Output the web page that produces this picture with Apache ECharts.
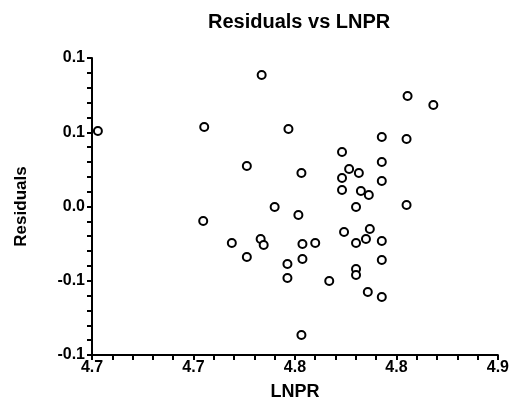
<!DOCTYPE html>
<html>
<head>
<meta charset="utf-8">
<script src="https://cdn.jsdelivr.net/npm/echarts@6/dist/echarts.min.js"></script>
<style>html,body{margin:0;padding:0;background:#fff}#c{width:512px;height:408px}</style>
</head>
<body>
<div id="c"></div>
<script>
const titleText = 'Residuals vs LNPR';
const xName = 'LNPR';
const yName = 'Residuals';
const xTickLabels = ['4.7', '4.7', '4.8', '4.8', '4.9'];
const yTickLabels = ['-0.1', '-0.1', '0.0', '0.1', '0.1'];
const lnpr = [4.6529, 4.7053, 4.7336, 4.7468, 4.7263, 4.7532, 4.7400, 4.7517, 4.7048, 4.7189,
  4.7331, 4.7346, 4.7263, 4.7537, 4.7600, 4.7463, 4.7537, 4.7463, 4.7532, 4.7669,
  4.8055, 4.8182, 4.7928, 4.8050, 4.7732, 4.7928, 4.7767, 4.7815, 4.7732, 4.7928,
  4.7732, 4.7825, 4.7864, 4.7801, 4.8050, 4.7742, 4.7869, 4.7850, 4.7801, 4.7928,
  4.7928, 4.7801, 4.7801, 4.7859, 4.7928];
const residuals = [0.0763, 0.0803, 0.1328, 0.0783, 0.0409, 0.0338, -0.0005, -0.0086, -0.0146, -0.0369,
  -0.0328, -0.0389, -0.0510, -0.0379, -0.0369, -0.0581, -0.0530, -0.0722, -0.1298, -0.0753,
  0.1116, 0.1025, 0.0702, 0.0682, 0.0551, 0.0450, 0.0379, 0.0338, 0.0288, 0.0258,
  0.0167, 0.0157, 0.0116, -0.0005, 0.0015, -0.0258, -0.0227, -0.0328, -0.0369, -0.0348,
  -0.0540, -0.0631, -0.0692, -0.0864, -0.0914];
const points = lnpr.map((x, i) => [x, residuals[i]]);

const FONT = 'Liberation Sans, Arial, sans-serif';
const chart = echarts.init(document.getElementById('c'));
chart.setOption({
  animation: false,
  backgroundColor: '#fff',
  title: {
    text: titleText, left: 203, top: 7,
    textStyle: { fontFamily: FONT, fontSize: 20, fontWeight: 'bold', color: '#000' }
  },
  grid: { left: 92, right: 11, top: 58, bottom: 53, containLabel: false },
  xAxis: {
    type: 'value', min: 4.65, max: 4.85, interval: 0.05,
    name: xName, nameLocation: 'middle', nameGap: 28,
    nameTextStyle: { fontFamily: FONT, fontSize: 18, fontWeight: 'bold', color: '#000' },
    axisLine: { show: true, onZero: false, lineStyle: { color: '#000', width: 2 } },
    axisTick: { show: true, inside: false, length: 5, lineStyle: { color: '#000', width: 2 } },
    minorTick: { show: true, splitNumber: 5, length: 5, lineStyle: { color: '#000', width: 2 } },
    splitLine: { show: false },
    axisLabel: {
      margin: 5, fontFamily: FONT, fontSize: 16, fontWeight: 'bold', color: '#000',
      formatter: (v, i) => xTickLabels[i]
    }
  },
  yAxis: {
    type: 'value', min: -0.15, max: 0.15, interval: 0.075,
    name: yName, nameLocation: 'middle', nameGap: 62, nameRotate: 90,
    nameTextStyle: { fontFamily: FONT, fontSize: 17, fontWeight: 'bold', color: '#000' },
    axisLine: { show: true, onZero: false, lineStyle: { color: '#000', width: 2 } },
    axisTick: { show: true, inside: false, length: 5, lineStyle: { color: '#000', width: 2 } },
    minorTick: { show: true, splitNumber: 5, length: 5, lineStyle: { color: '#000', width: 2 } },
    splitLine: { show: false },
    axisLabel: {
      margin: 7, fontFamily: FONT, fontSize: 16, fontWeight: 'bold', color: '#000',
      formatter: (v, i) => yTickLabels[i]
    }
  },
  series: [{
    type: 'scatter',
    data: points,
    symbol: 'circle',
    symbolSize: 8,
    itemStyle: { color: '#fff', borderColor: '#000', borderWidth: 2, opacity: 1 }
  }]
});
</script>
</body>
</html>
